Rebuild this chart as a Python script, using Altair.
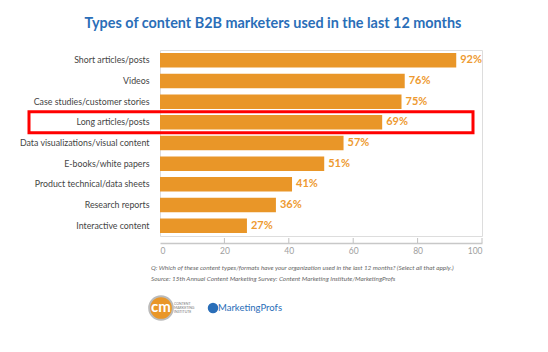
import altair as alt
import pandas as pd

categories = [
    "Short articles/posts",
    "Videos",
    "Case studies/customer stories",
    "Long articles/posts",
    "Data visualizations/visual content",
    "E-books/white papers",
    "Product technical/data sheets",
    "Research reports",
    "Interactive content",
]
values = [92, 76, 75, 69, 57, 51, 41, 36, 27]
tick_values = [0, 20, 40, 60, 80, 100]
highlight = "Long articles/posts"

title_text = "Types of content B2B marketers used in the last 12 months"
note_q = "Q: Which of these content types/formats have your organization used in the last 12 months? (Select all that apply.)"
note_src = "Source: 15th Annual Content Marketing Survey: Content Marketing Institute/MarketingProfs"
cmi_words = ["CONTENT", "MARKETING", "INSTITUTE"]

df = pd.DataFrame({"cat": categories, "val": values})
df["label"] = [f"{v}%" for v in values]
ticks_df = pd.DataFrame({"t": tick_values[1:]})
hl_df = pd.DataFrame({"cat": [highlight]})
one = pd.DataFrame({"a": [0]})

ORANGE = "#E99628"
FONT = "Lato"
W, H = 322, 186

y_enc = alt.Y("cat:N", sort=categories, title=None,
              scale=alt.Scale(paddingInner=0.3, paddingOuter=0.15),
              axis=alt.Axis(labelFont=FONT, labelFontSize=8.8,
                            labelColor="#444444", domain=False, ticks=False,
                            labelPadding=11))
x_enc = alt.X("val:Q", title=None,
              scale=alt.Scale(domain=[0, 100]),
              axis=alt.Axis(values=tick_values, grid=False, ticks=False,
                            domainColor="#c8c8c8", domainWidth=1.5, offset=7,
                            labelColor="#a0a0a0", labelFontSize=8.5,
                            labelFont=FONT, labelPadding=3))

bars = alt.Chart(df).mark_bar(color=ORANGE).encode(x=x_enc, y=y_enc)

labels = alt.Chart(df).mark_text(align="left", dx=4, color="#EE9A30",
                                 font=FONT, fontWeight="bold",
                                 fontSize=11).encode(
    x="val:Q", y=alt.Y("cat:N", sort=categories), text="label:N")

tick_rules = alt.Chart(ticks_df).mark_rule(color="#c0c0c0").encode(
    x="t:Q", y=alt.value(H + 2), y2=alt.value(H + 7))

box = alt.Chart(hl_df).mark_bar(height=alt.RelativeBandSize(1.45),
                                fillOpacity=0, stroke="#FF0000",
                                strokeWidth=3).encode(
    y=alt.Y("cat:N", sort=categories),
    x=alt.value(-131), x2=alt.value(313))

title = alt.Chart(one).mark_text(text=title_text, font=FONT,
                                 fontWeight="bold", fontSize=14.4,
                                 color="#2A6EB8", align="center").encode(
    x=alt.value(113), y=alt.value(-26))

q_text = alt.Chart(one).mark_text(text=note_q, font=FONT,
                                  fontStyle="italic", fontSize=6.4,
                                  color="#666666", align="left").encode(
    x=alt.value(-9), y=alt.value(218))
src_text = alt.Chart(one).mark_text(text=note_src, font=FONT,
                                    fontStyle="italic", fontSize=6.4,
                                    color="#666666", align="left").encode(
    x=alt.value(-9), y=alt.value(229))

cmi_circle = alt.Chart(one).mark_point(filled=True, size=560, color=ORANGE,
                                       stroke="#bbbbbb", strokeWidth=2,
                                       opacity=1).encode(
    x=alt.value(1), y=alt.value(258))
cmi_cm = alt.Chart(one).mark_text(text="cm", font=FONT, fontWeight="bold",
                                  fontSize=15, color="white").encode(
    x=alt.value(1), y=alt.value(257))
cmi_lines = [
    alt.Chart(one).mark_text(text=w, font=FONT, fontSize=3.5,
                             color="#777777", align="left").encode(
        x=alt.value(14), y=alt.value(254 + 4 * i))
    for i, w in enumerate(cmi_words)
]
mp_icon = alt.Chart(one).mark_point(filled=True, size=110, color="#2A6EB8",
                                    opacity=1).encode(
    x=alt.value(53), y=alt.value(258))
mp_text = alt.Chart(one).mark_text(text="MarketingProfs", font=FONT,
                                   fontSize=9.5, color="#2A6EB8",
                                   align="left").encode(
    x=alt.value(58), y=alt.value(258))

chart = alt.layer(box, bars, labels, tick_rules, title, q_text, src_text,
                  cmi_circle, cmi_cm, *cmi_lines, mp_icon, mp_text).properties(
    width=W, height=H,
    padding={"left": 160, "top": 50, "right": 66, "bottom": 116},
    autosize=alt.AutoSizeParams(type="none"),
).configure_view(strokeWidth=0).configure(background="white")

chart.save("out.html", embed_options={"renderer": "svg", "actions": False})
